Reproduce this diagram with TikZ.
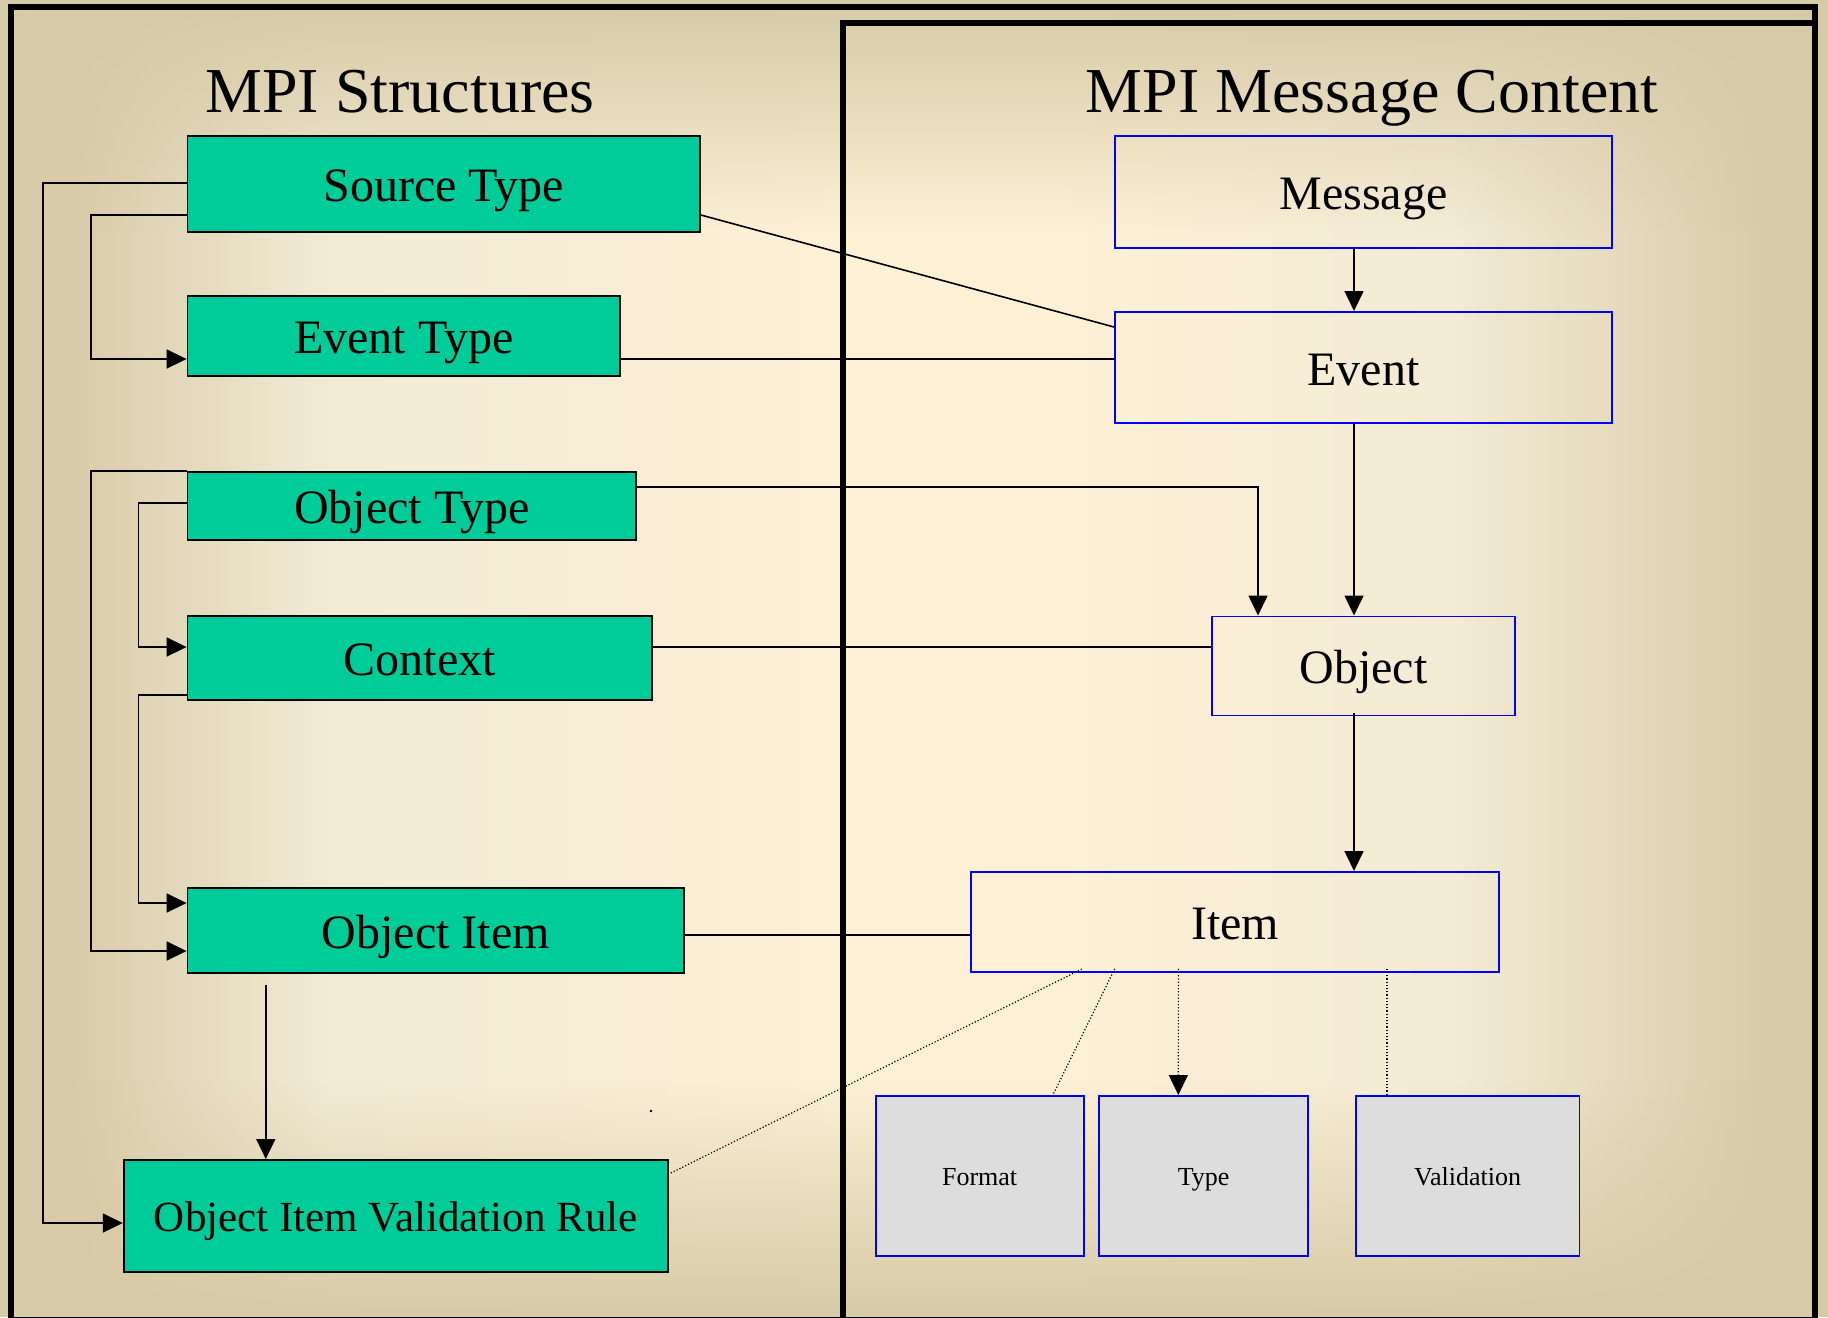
\documentclass[tikz,border=0pt]{standalone}
\usepackage{fontspec}
\setmainfont{Liberation Serif}
\usetikzlibrary{arrows.meta,calc,fadings}
\definecolor{boxgreen}{RGB}{0,204,153}
\definecolor{boxblue}{RGB}{0,0,255}
\definecolor{boxgray}{RGB}{221,221,221}
\definecolor{bgA}{RGB}{253,240,213}
\definecolor{bgB}{RGB}{243,235,213}
\definecolor{bgD}{RGB}{215,202,166}
\tikzfading[name=fadeup, top color=transparent!0, bottom color=transparent!100]
\tikzfading[name=fadedown, top color=transparent!100, bottom color=transparent!0]
\tikzset{
  gbox/.style={draw=black, fill=boxgreen, line width=1.8pt, inner sep=0pt, anchor=north west, font=\fontsize{48}{52}\selectfont, text height=36pt, text depth=0pt},
  bbox/.style={draw=boxblue, line width=1.8pt, inner sep=0pt, anchor=north west, font=\fontsize{48}{52}\selectfont, text height=36pt, text depth=0pt},
  sbox/.style={draw=boxblue, fill=boxgray, line width=1.8pt, inner sep=0pt, anchor=north west, font=\fontsize{26}{30}\selectfont, text height=19.5pt, text depth=0pt},
  conn/.style={line width=1.6pt},
  arr/.style={conn, -{Triangle[length=20pt,width=19pt]}},
  dotl/.style={line width=1.2pt, dash pattern=on 1.2pt off 2pt},
  dotarr/.style={dotl, -{Triangle[length=20pt,width=19pt]}},
  title/.style={anchor=base, font=\fontsize{64}{70}\selectfont}
}
\begin{document}
\begin{tikzpicture}[x=1pt,y=-1pt]
\useasboundingbox (0,0) rectangle (1828,1317);
\clip (0,0) rectangle (1828,1317);
% background: rectangular gradient
\fill[bgD] (0,0) rectangle (61,1317);
\shade[left color=bgD, right color=bgB] (60,0) rectangle (331,1317);
\shade[left color=bgB, right color=bgA] (330,0) rectangle (851,1317);
\fill[bgA] (850,0) rectangle (1051,1317);
\shade[left color=bgA, right color=bgB] (1050,0) rectangle (1451,1317);
\shade[left color=bgB, right color=bgD] (1450,0) rectangle (1781,1317);
\fill[bgD] (1780,0) rectangle (1828,1317);
\fill[bgD, path fading=fadeup] (0,0) rectangle (1828,230);
\fill[bgD, path fading=fadedown] (0,1080) rectangle (1828,1317);
% frames
\draw[line width=6pt] (10.5,7) rectangle (1815,1320);
\draw[line width=6pt] (843,1320) -- (843,23) -- (1815,23);
% titles
\node[title] (t1) at (400,112) {MPI Structures};
\node[title] (t2) at (1372,112) {MPI Message Content};
% left boxes
\node[gbox, minimum width=512.4pt, minimum height=96pt] (src) at (186.6,135) {Source Type};
\node[gbox, minimum width=432.4pt, minimum height=80pt] (evtt) at (186.6,295) {Event Type};
\node[gbox, minimum width=448.4pt, minimum height=68pt] (objt) at (186.6,471) {Object Type};
\node[gbox, minimum width=464.4pt, minimum height=84pt] (ctx) at (186.6,615) {Context};
\node[gbox, minimum width=496.4pt, minimum height=85pt] (obji) at (186.6,887) {Object Item};
\node[gbox, minimum width=544.2pt, minimum height=112pt, font=\fontsize{43}{47}\selectfont, text height=32pt] (oivr) at (122.8,1159) {Object Item Validation Rule};
% right boxes
\node[bbox, minimum width=497pt, minimum height=112pt] (msg) at (1114,135) {Message};
\node[bbox, minimum width=497pt, minimum height=111pt] (evt) at (1114,311) {Event};
\node[bbox, minimum width=303pt, minimum height=99pt] (obj) at (1211,615.5) {Object};
\node[bbox, minimum width=528pt, minimum height=100pt] (item) at (970.4,871) {Item};
\node[sbox, minimum width=208pt, minimum height=160pt] (fmt) at (874.7,1095) {Format};
\node[sbox, minimum width=208.7pt, minimum height=160pt] (typ) at (1098.3,1095) {Type};
\node[sbox, minimum width=223.7pt, minimum height=160pt] (val) at (1354.8,1095) {Validation};
% left-side connectors
\draw[arr] ($(src.north west)+(0,48)$) -- ++(-143.6,0) |- ($(oivr.north west)+(0,64)$);
\draw[arr] ($(src.north west)+(0,80)$) -- ++(-95.9,0) |- ($(evtt.north west)+(0,64)$);
\draw[arr] (objt.north west) -- ++(-95.9,0) |- ($(obji.north west)+(0,64)$);
\draw[arr] ($(objt.north west)+(0,32)$) -- ++(-48.2,0) |- ($(ctx.north west)+(0,32)$);
\draw[arr] ($(ctx.north west)+(0,80)$) -- ++(-48.2,0) |- ($(obji.north west)+(0,16)$);
\coordinate (c6) at ($(obji.south west)+(79.2,11)$);
\draw[arr] (c6) -- (c6 |- oivr.north);
% cross connectors
\draw[conn] ($(src.north east)+(0,80)$) -- ($(evt.north west)+(0,16)$);
\draw[conn] ($(evtt.north east)+(0,64)$) -- ($(evt.north west)+(0,48)$);
\draw[arr] ($(objt.north east)+(0,16)$) -| ($(obj.north west)+(47,0)$);
\draw[conn] ($(ctx.north east)+(0,32)$) -- ($(obj.north west)+(0,31.5)$);
\draw[conn] ($(obji.north east)+(0,48)$) -- ($(item.north west)+(0,64)$);
% right connectors
\draw[arr] ($(msg.south west)+(240,0)$) -- ($(evt.north west)+(240,0)$);
\draw[arr] ($(evt.south west)+(240,0)$) -- ($(obj.north west)+(143,0)$);
\draw[arr] ($(obj.south west)+(143,-3)$) -- ($(item.north west)+(383.6,0)$);
% dotted
\draw[dotl] ($(oivr.north east)+(2,14)$) -- ($(item.south west)+(112,-4)$);
\draw[dotl] ($(item.south west)+(144.3,-4)$) -- ($(fmt.north east)+(-31.6,0)$);
\draw[dotarr] ($(item.south west)+(208,-4)$) -- ($(typ.north west)+(80,0)$);
\draw[dotl] ($(item.south west)+(416.6,-4)$) -- ($(val.north west)+(32.2,0)$);
% stray dot
\fill (651,1111) circle (1.3pt);
\end{tikzpicture}
\end{document}
